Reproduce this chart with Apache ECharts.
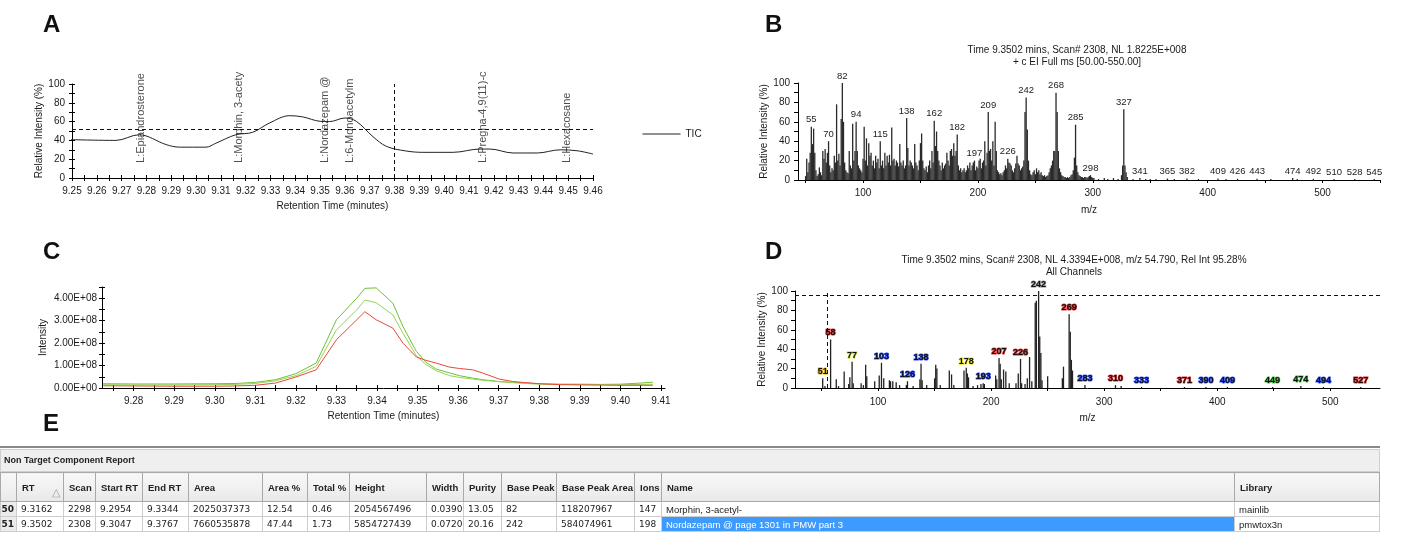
<!DOCTYPE html>
<html>
<head>
<meta charset="utf-8">
<script src="https://cdn.jsdelivr.net/npm/echarts@6/dist/echarts.min.js"></script>
<style>
  body { margin: 0; background: #fff; }
  #chart { position: absolute; left: 0; top: 0; width: 1402px; height: 533px; }
  #report { position: absolute; left: 0; top: 446px; width: 1380px; }
  #report .topline { height: 2px; background: #8a8a8a; }
  #report .bar { margin-top: 1px; height: 23px; box-sizing: border-box; background: #efefef; border: 1px solid #cfcfcf;
    font: bold 9px 'Liberation Sans'; line-height: 21px; padding-left: 3px; color: #222; }
  #report table { border-collapse: collapse; table-layout: fixed; width: 1378px; }
  #report th { position: relative; height: 28px; background: linear-gradient(#f8f8f8, #e9e9e9); border: 1px solid #a9a9a9;
    font: bold 9.5px 'Liberation Sans'; color: #222; text-align: left; padding: 0 0 0 5px; overflow: hidden; white-space: nowrap; }
  #report td { height: 14px; border: 1px solid #cdcdcd; font: 9px 'DejaVu Sans'; color: #222; padding: 0 0 0 4px;
    overflow: hidden; white-space: nowrap; }
  #report td.rn { background: #ececec; font: bold 9px 'DejaVu Sans'; direction: rtl; text-align: left; padding: 0 2px 0 0; }
  #report td.nm { font: 9.5px 'Liberation Sans'; }
  #report td.sel { background: #3d9bff; color: #fff; }
  #report .sort { position: absolute; right: 3px; bottom: 2px; color: #a0a0a0; font-weight: normal; font-size: 11px; }
</style>
</head>
<body>
<div id="chart"></div>
<div id="report"></div>
<script>
// ---- A: TIC ----
const ticTime = [9.2495, 9.2677, 9.2770, 9.2880, 9.2933, 9.3040, 9.3080, 9.3160, 9.3228, 9.3296, 9.3377, 9.3430,
  9.3500, 9.3538, 9.3600, 9.3646, 9.3713, 9.3767, 9.3845, 9.3914, 9.4036, 9.4145, 9.4185, 9.4278, 9.4375, 9.4468, 9.4536, 9.4600];
const ticValue = [40.8, 40.0, 46.0, 35.5, 32.8, 32.8, 37.0, 46.0, 48.6, 58.5, 66.3, 65.0,
  60.3, 60.0, 63.8, 60.3, 44.0, 33.7, 28.8, 27.3, 27.3, 30.8, 30.8, 26.6, 26.6, 30.0, 29.0, 25.5];
const ticLabelTime = [9.2779, 9.3175, 9.3518, 9.3619, 9.4157, 9.4496];
const ticLabels = ['L:Epiandrosterone', 'L:Morphin, 3-acety', 'L:Nordazepam @', 'L:6-Monoacetylm', 'L:Pregna-4,9(11)-c', 'L:Hexacosane'];
const ticThreshold = 52;
const ticCursor = 9.3845;
const ticXLabels = [9.25, 9.26, 9.27, 9.28, 9.29, 9.30, 9.31, 9.32, 9.33, 9.34, 9.35, 9.36, 9.37, 9.38, 9.39, 9.40, 9.41, 9.42, 9.43, 9.44, 9.45, 9.46];

// ---- B: full scan spectrum ----
const bMz = [50, 51, 52, 53, 54, 55, 56, 57, 58, 59, 60, 61, 62, 63, 64, 65, 66, 67, 68, 69, 70, 71, 72, 73, 74, 75, 76, 77, 78, 79,
  80, 81, 82, 83, 84, 85, 86, 87, 88, 89, 90, 91, 92, 93, 94, 95, 96, 97, 98, 99, 100, 101, 102, 103, 104, 105, 106, 107, 108, 109,
  110, 111, 112, 113, 114, 115, 116, 117, 118, 119, 120, 121, 122, 123, 124, 125, 126, 127, 128, 129, 130, 131, 132, 133, 134, 135, 136, 137, 138, 139,
  140, 141, 142, 143, 144, 145, 146, 147, 148, 149, 150, 151, 152, 153, 154, 155, 156, 157, 158, 159, 160, 161, 162, 163, 164, 165, 166, 167, 168, 169,
  170, 171, 172, 173, 174, 175, 176, 177, 178, 179, 180, 181, 182, 183, 184, 185, 186, 187, 188, 189, 190, 191, 192, 193, 194, 195, 196, 197, 198, 199,
  200, 201, 202, 203, 204, 205, 206, 207, 208, 209, 210, 211, 212, 213, 214, 215, 216, 217, 218, 219, 220, 221, 222, 223, 224, 225, 226, 227, 228, 229,
  230, 231, 232, 233, 234, 235, 236, 237, 238, 239, 240, 241, 242, 243, 244, 245, 246, 247, 248, 249, 250, 251, 252, 253, 254, 255, 256, 257, 258, 259,
  260, 261, 262, 263, 264, 265, 266, 267, 268, 269, 270, 271, 272, 273, 274, 275, 276, 277, 278, 279, 280, 281, 282, 283, 284, 285, 286, 287, 288, 289,
  290, 291, 292, 293, 294, 295, 296, 297, 298, 299, 300, 301, 305, 310, 313, 318, 322, 325, 326, 327, 328, 329, 330, 335, 341, 346, 350, 355,
  365, 371, 382, 392, 409, 416, 426, 443, 455, 474, 478, 492, 510, 528, 545];
const bInt = [4, 22, 8, 18, 28, 55, 37, 53, 28, 10, 4, 6, 13, 8, 5, 30, 22, 32, 18, 28, 40, 15, 8, 12, 10, 25, 18, 78, 20, 27,
  15, 63, 100, 60, 18, 10, 8, 7, 30, 15, 12, 58, 20, 30, 60, 30, 15, 12, 10, 8, 22, 55, 20, 43, 15, 38, 25, 28, 15, 20,
  12, 25, 18, 22, 12, 40, 15, 20, 12, 28, 15, 25, 18, 26, 15, 54, 20, 22, 15, 20, 18, 14, 37, 18, 15, 20, 12, 15, 64, 33,
  15, 20, 18, 15, 12, 37, 18, 15, 10, 20, 38, 48, 20, 12, 10, 14, 8, 15, 20, 12, 30, 18, 61, 35, 50, 30, 20, 15, 10, 18,
  12, 15, 17, 28, 20, 15, 30, 32, 25, 38, 25, 30, 47, 15, 10, 12, 8, 10, 12, 8, 10, 15, 12, 18, 10, 15, 18, 20, 10, 14,
  12, 20, 22, 12, 18, 20, 40, 15, 28, 70, 30, 32, 20, 40, 15, 60, 30, 10, 8, 6, 7, 5, 8, 10, 15, 12, 22, 18, 17, 15,
  10, 8, 12, 17, 25, 17, 15, 10, 12, 14, 20, 70, 85, 52, 20, 10, 6, 5, 8, 10, 6, 12, 8, 10, 6, 8, 5, 4, 5, 3,
  4, 5, 8, 12, 15, 20, 30, 30, 90, 70, 30, 12, 8, 5, 4, 3, 3, 2, 3, 2, 3, 5, 6, 10, 23, 57, 15, 8, 5, 4,
  3, 3, 2, 3, 3, 2, 3, 4, 5, 3, 2, 2, 1, 2, 1, 2, 1, 5, 15, 73, 15, 8, 3, 1, 2, 1, 1, 1,
  1.5, 1, 1.5, 1, 1.5, 1, 1.2, 1.2, 1, 2, 1, 1.2, 1, 1, 1];
const bLabelMz = [55, 70, 82, 94, 115, 138, 162, 182, 197, 209, 226, 242, 268, 285, 298, 327, 341, 365, 382, 409, 426, 443, 474, 492, 510, 528, 545];

// ---- C: extracted ion chromatograms ----
const cTime = [9.2725, 9.2800, 9.2900, 9.3000, 9.3050, 9.3100, 9.3150, 9.3200, 9.3250, 9.3300, 9.3350, 9.3370, 9.3398,
  9.3439, 9.3464, 9.3497, 9.3521, 9.3546, 9.3579, 9.3603, 9.3636, 9.3660, 9.3701, 9.3734, 9.3767, 9.3800,
  9.3850, 9.3900, 9.3950, 9.4000, 9.4050, 9.4080];
const cGreen1 = [0.19, 0.18, 0.18, 0.19, 0.20, 0.25, 0.37, 0.64, 1.11, 3.04, 4.00, 4.44, 4.46,
  3.78, 2.74, 1.63, 1.14, 0.84, 0.67, 0.55, 0.44, 0.37, 0.29, 0.25, 0.22, 0.19,
  0.17, 0.17, 0.16, 0.17, 0.22, 0.26];
const cGreen2 = [0.15, 0.14, 0.14, 0.15, 0.16, 0.20, 0.32, 0.55, 0.96, 2.59, 3.48, 3.92, 3.80,
  3.26, 2.44, 1.44, 1.04, 0.77, 0.55, 0.47, 0.40, 0.34, 0.28, 0.24, 0.20, 0.17,
  0.16, 0.15, 0.15, 0.15, 0.16, 0.17];
const cRed = [0.10, 0.09, 0.08, 0.08, 0.09, 0.12, 0.22, 0.49, 0.81, 2.15, 3.04, 3.40, 3.04,
  2.67, 2.00, 1.38, 1.23, 1.11, 0.93, 0.87, 0.81, 0.67, 0.40, 0.29, 0.24, 0.19,
  0.15, 0.14, 0.13, 0.12, 0.12, 0.12];
const cXLabels = [9.28, 9.29, 9.30, 9.31, 9.32, 9.33, 9.34, 9.35, 9.36, 9.37, 9.38, 9.39, 9.40, 9.41];
const cXTicks = [9.275, 9.28, 9.285, 9.29, 9.295, 9.30, 9.305, 9.31, 9.315, 9.32, 9.325, 9.33, 9.335, 9.34, 9.345,
  9.35, 9.355, 9.36, 9.365, 9.37, 9.375, 9.38, 9.385, 9.39, 9.395, 9.40, 9.405, 9.41];

// ---- D: spectrum, all channels ----
const dMz = [51, 53, 58, 63, 65, 70, 74, 75, 77, 78, 85, 87, 89, 90, 97, 101, 103, 105, 110, 111, 113, 116, 119, 125, 126,
  131, 137, 138, 139, 143, 150, 151, 152, 155, 163, 165, 167, 176, 178, 179, 180, 184, 188, 191, 193, 194,
  204, 205, 207, 208, 209, 211, 213, 216, 222, 224, 226, 227, 230, 232, 234, 236, 239, 240, 242, 243, 244, 245,
  250, 263, 264, 269, 270, 271, 272, 283, 310, 315, 333, 371, 390, 409, 449, 474, 494, 527];
const dInt = [10, 2, 50, 9, 2, 17, 4, 11, 27, 5, 5, 3, 24, 12, 7, 13, 26, 10, 8, 7, 7, 6, 3, 3, 7,
  2, 9, 25, 8, 3, 10, 24, 20, 3, 18, 14, 3, 18, 21, 15, 11, 2, 3, 4, 5, 4,
  13, 9, 31, 25, 9, 19, 17, 5, 5, 15, 30, 5, 4, 10, 32, 7, 88, 90, 100, 53, 36, 8,
  12, 10, 22, 76, 58, 29, 18, 3, 3, 2, 1, 1, 1, 1, 1, 2, 1, 1];
const dLabelMz = [51, 58, 77, 103, 126, 138, 178, 193, 207, 226, 242, 269, 283, 310, 333, 371, 390, 409, 449, 474, 494, 527];
const dLabelEdge = ['#e0b000', '#e03030', '#c8e000', '#3050ff', '#3050ff', '#3050ff', '#e8e000', '#3050ff', '#e03030', '#e03030', '#909090',
  '#e03030', '#3050ff', '#e03030', '#3050ff', '#e03030', '#3050ff', '#3050ff', '#40c040', '#40c040', '#3050ff', '#e03030'];
const dThreshold = 95.28;
const dCursor = 54.79;

// ---- E: report table ----
const reportHeaders = ['', 'RT', 'Scan', 'Start RT', 'End RT', 'Area', 'Area %', 'Total %', 'Height', 'Width', 'Purity',
  'Base Peak', 'Base Peak Area', 'Ions', 'Name', 'Library'];
const row450 = ['450', '9.3162', '2298', '9.2954', '9.3344', '2025037373', '12.54', '0.46', '2054567496', '0.0390', '13.05',
  '82', '118207967', '147', 'Morphin, 3-acetyl-', 'mainlib'];
const row451 = ['451', '9.3502', '2308', '9.3047', '9.3767', '7660535878', '47.44', '1.73', '5854727439', '0.0720', '20.16',
  '242', '584074961', '198', 'Nordazepam @ page 1301 in PMW part 3', 'pmwtox3n'];

const F = 'Liberation Sans';
const TXT = '#1a1a1a';

function valueAxis(grid, min, max, opt) {
  const base = {
    type: 'value', gridIndex: grid, min: min, max: max,
    splitLine: { show: false },
    axisLine: { show: true, onZero: false, lineStyle: { color: '#000', width: 1 } },
    axisLabel: { fontFamily: F, fontSize: 10, color: TXT },
    axisTick: { show: true, length: 4, lineStyle: { color: '#000' } },
    nameTextStyle: { fontFamily: F, fontSize: 10, color: TXT }
  };
  return Object.assign(base, opt);
}
function innerTicks(grid, min, max, pos, ticks) {
  return {
    type: 'value', gridIndex: grid, min: min, max: max, position: pos,
    splitLine: { show: false }, axisLabel: { show: false },
    axisLine: { show: false, onZero: false },
    axisTick: { show: true, inside: true, length: 3, customValues: ticks, lineStyle: { color: '#000' } }
  };
}

const ticXTicks = [];
ticXLabels.forEach((v, i) => { ticXTicks.push(v); if (i < ticXLabels.length - 1) ticXTicks.push(v + 0.005); });
const tens = [0, 10, 20, 30, 40, 50, 60, 70, 80, 90, 100];
const cYTicks = [0, 0.5e8, 1e8, 1.5e8, 2e8, 2.5e8, 3e8, 3.5e8, 4e8, 4.5e8];
const mzLabels = [100, 200, 300, 400, 500];
const mzTicks = [50, 100, 150, 200, 250, 300, 350, 400, 450, 500, 550];

const xAxis = [
  valueAxis(0, 9.25, 9.46, {
    name: 'Retention Time (minutes)', nameLocation: 'middle', nameGap: 23,
    axisLabel: { fontFamily: F, fontSize: 10, color: TXT, margin: 8, customValues: ticXLabels, formatter: v => v.toFixed(2) },
    axisTick: { length: 3, customValues: ticXTicks, lineStyle: { color: '#000' } }
  }),
  innerTicks(0, 9.25, 9.46, 'bottom', ticXTicks),
  valueAxis(1, 43.4, 550, {
    name: 'm/z', nameLocation: 'middle', nameGap: 25,
    axisLabel: { fontFamily: F, fontSize: 10, color: TXT, margin: 8, customValues: mzLabels },
    axisTick: { length: 3, customValues: mzTicks, lineStyle: { color: '#000' } }
  }),
  valueAxis(2, 9.2722, 9.411, {
    name: 'Retention Time (minutes)', nameLocation: 'middle', nameGap: 23,
    axisLabel: { fontFamily: F, fontSize: 10, color: TXT, margin: 8, customValues: cXLabels, formatter: v => v.toFixed(2) },
    axisTick: { length: 3, customValues: cXTicks, lineStyle: { color: '#000' } }
  }),
  innerTicks(2, 9.2722, 9.411, 'bottom', cXTicks),
  valueAxis(3, 26.5, 544, {
    name: 'm/z', nameLocation: 'middle', nameGap: 25,
    axisLabel: { fontFamily: F, fontSize: 10, color: TXT, margin: 9, customValues: mzLabels },
    axisTick: { length: 3, customValues: mzTicks, lineStyle: { color: '#000' } }
  })
];

const yAxis = [
  valueAxis(0, 0, 100, {
    interval: 20, name: 'Relative Intensity (%)', nameLocation: 'middle', nameGap: 23,
    axisLabel: { fontFamily: F, fontSize: 10, color: TXT, margin: 7 },
    axisTick: { length: 3, customValues: tens, lineStyle: { color: '#000' } }
  }),
  innerTicks(0, 0, 100, 'left', tens),
  valueAxis(1, 0, 100, {
    interval: 20, name: 'Relative Intensity (%)', nameLocation: 'middle', nameGap: 27,
    axisLabel: { fontFamily: F, fontSize: 10, color: TXT, margin: 8 },
    axisTick: { length: 4, customValues: tens, lineStyle: { color: '#000' } }
  }),
  valueAxis(2, 0, 4.5e8, {
    name: 'Intensity', nameLocation: 'middle', nameGap: 54,
    axisLabel: { fontFamily: F, fontSize: 10, color: TXT, margin: 5, customValues: [0, 1e8, 2e8, 3e8, 4e8],
      formatter: v => v === 0 ? '0.00E+00' : (v / 1e8).toFixed(2) + 'E+08' },
    axisTick: { length: 3, customValues: cYTicks, lineStyle: { color: '#000' } }
  }),
  innerTicks(2, 0, 4.5e8, 'left', cYTicks),
  valueAxis(3, 0, 100, {
    interval: 20, name: 'Relative Intensity (%)', nameLocation: 'middle', nameGap: 27,
    axisLabel: { fontFamily: F, fontSize: 10, color: TXT, margin: 7 },
    axisTick: { length: 4, customValues: tens, lineStyle: { color: '#000' } }
  })
];

const dashed = { type: [4, 3], color: '#111', width: 1 };
const letter = { fontFamily: F, fontSize: 24, fontWeight: 'bold', color: '#111' };

const chart = echarts.init(document.getElementById('chart'), null, { renderer: 'canvas' });
chart.setOption({
  animation: false,
  backgroundColor: '#fff',
  textStyle: { fontFamily: F },
  title: [
    { text: 'A', left: 38, top: 8, textStyle: letter },
    { text: 'B', left: 760, top: 8, textStyle: letter },
    { text: 'C', left: 38, top: 235, textStyle: letter },
    { text: 'D', left: 760, top: 235, textStyle: letter },
    { text: 'E', left: 38, top: 407, textStyle: letter },
    { text: 'Time 9.3502 mins, Scan# 2308, NL 1.8225E+008\n+ c EI Full ms [50.00-550.00]', left: 1072, top: 39, textAlign: 'center',
      textStyle: { fontFamily: F, fontSize: 10, fontWeight: 'normal', lineHeight: 12, color: TXT } },
    { text: 'Time 9.3502 mins, Scan# 2308, NL 4.3394E+008, m/z 54.790, Rel Int 95.28%\nAll Channels', left: 1069, top: 249, textAlign: 'center',
      textStyle: { fontFamily: F, fontSize: 10, fontWeight: 'normal', lineHeight: 12, color: TXT } }
  ],
  legend: {
    data: ['TIC'], left: 637, top: 124, itemWidth: 38, itemHeight: 12, itemGap: 5,
    itemStyle: { opacity: 0 },
    lineStyle: { color: '#222', width: 1 },
    textStyle: { fontFamily: F, fontSize: 10, color: TXT }
  },
  grid: [
    { left: 72, top: 84, width: 521, height: 94 },
    { left: 798, top: 83, width: 582, height: 97 },
    { left: 102, top: 287, width: 563, height: 101 },
    { left: 795, top: 291, width: 585, height: 97 }
  ],
  xAxis: xAxis,
  yAxis: yAxis,
  series: [
    {
      type: 'line', name: 'TIC', xAxisIndex: 0, yAxisIndex: 0, smooth: 0.35, symbol: 'none',
      data: ticTime.map((t, i) => [t, ticValue[i]]),
      lineStyle: { color: '#222', width: 1 }, itemStyle: { color: '#222' },
      markLine: {
        silent: true, symbol: 'none', label: { show: false }, lineStyle: dashed,
        data: [{ yAxis: ticThreshold }, { xAxis: ticCursor }]
      }
    },
    {
      type: 'scatter', xAxisIndex: 0, yAxisIndex: 0, symbolSize: 0, silent: true, z: 5,
      data: ticLabelTime.map((t, i) => ({ value: [t, 16], name: ticLabels[i] })),
      label: { show: true, formatter: '{b}', rotate: 90, position: [0, 0], align: 'left', verticalAlign: 'middle',
        fontFamily: F, fontSize: 11, color: '#222' }
    },
    {
      type: 'bar', xAxisIndex: 2, yAxisIndex: 2, barWidth: 1.3, silent: true,
      itemStyle: { color: '#2a2a2a' },
      data: bMz.map((m, i) => bLabelMz.includes(m) ? { value: [m, bInt[i]], label: { show: true } } : [m, bInt[i]]),
      label: { show: false, position: 'top', distance: 2, formatter: p => p.value[0], fontFamily: F, fontSize: 9.5, color: '#222' }
    },
    {
      type: 'line', name: 'm/z 1', xAxisIndex: 3, yAxisIndex: 3, symbol: 'none',
      data: cTime.map((t, i) => [t, cGreen1[i] * 1e8]), lineStyle: { color: '#6cc230', width: 1 }
    },
    {
      type: 'line', name: 'm/z 2', xAxisIndex: 3, yAxisIndex: 3, symbol: 'none',
      data: cTime.map((t, i) => [t, cGreen2[i] * 1e8]), lineStyle: { color: '#96d45a', width: 1 }
    },
    {
      type: 'line', name: 'm/z 3', xAxisIndex: 3, yAxisIndex: 3, symbol: 'none',
      data: cTime.map((t, i) => [t, cRed[i] * 1e8]), lineStyle: { color: '#e8483a', width: 1 }
    },
    {
      type: 'bar', xAxisIndex: 5, yAxisIndex: 5, barWidth: 1.3, silent: true,
      itemStyle: { color: '#222' },
      data: dMz.map((m, i) => {
        const k = dLabelMz.indexOf(m);
        return k >= 0 ? { value: [m, dInt[i]], label: { show: true, textBorderColor: dLabelEdge[k] } } : [m, dInt[i]];
      }),
      label: { show: false, position: 'top', distance: 2, formatter: p => p.value[0], fontFamily: F, fontSize: 9,
        fontWeight: 'bold', color: '#111', textBorderWidth: 1.2 },
      markLine: {
        silent: true, symbol: 'none', label: { show: false }, lineStyle: dashed,
        data: [{ yAxis: dThreshold }, { xAxis: dCursor }]
      }
    }
  ]
});

// report table
const rep = document.getElementById('report');
const colWidths = [16, 47, 32, 47, 46, 74, 45, 42, 77, 37, 38, 55, 78, 27, 573, 145];
let html = '<div class="topline"></div><div class="bar">Non Target Component Report</div><table><colgroup>';
colWidths.forEach(w => { html += '<col style="width:' + w + 'px">'; });
html += '</colgroup><tr>';
reportHeaders.forEach(h => {
  html += '<th>' + h + (h === 'RT' ? '<span class="sort">\u25B3</span>' : '') + '</th>';
});
html += '</tr>';
[row450, row451].forEach((row, r) => {
  html += '<tr>';
  row.forEach((c, i) => {
    let cls = i === 0 ? 'rn' : (i === 14 || i === 15 ? 'nm' : '');
    if (r === 1 && i === 14) cls += ' sel';
    html += '<td class="' + cls + '">' + c + '</td>';
  });
  html += '</tr>';
});
html += '</table>';
rep.innerHTML = html;
</script>
</body>
</html>
